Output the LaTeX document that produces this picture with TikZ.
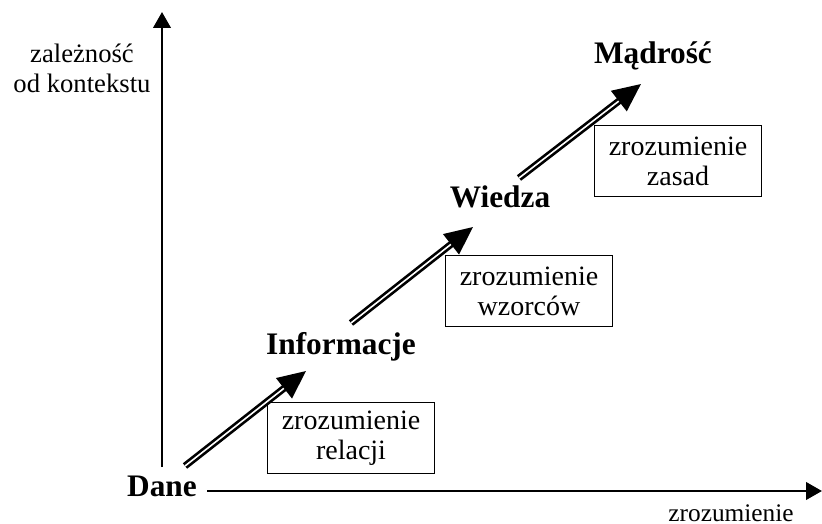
\documentclass[tikz,border=0pt]{standalone}
\usepackage{fontspec}
\setmainfont{Liberation Serif}
\usetikzlibrary{arrows.meta}
\begin{document}
\begin{tikzpicture}[x=0.75pt,y=-0.75pt,
    level/.style = {font=\fontsize{23.5}{28}\selectfont\bfseries, inner sep=0pt},
    note/.style = {draw, line width=1.1pt, minimum width=125pt, minimum height=53pt,
                   align=center, font=\fontsize{21}{22.5}\selectfont},
    axis/.style = {line width=2.2pt, -{Triangle[length=12pt,width=13pt]}},
    step arrow/.style = {double, line width=2pt, double distance=1.2pt,
                         -{Triangle[length=21pt,width=19pt]}}]
        \useasboundingbox (0,0) rectangle (822,524);
        \node[level] (dane) at (162,486) {Dane};
        \node[level] (info) at (341,347) {Informacje};
        \node[level] (wiedza) at (500,197) {Wiedza};
        \node[level] (madrosc) at (653,56) {Mądrość};
        %
        \node[note] (relacje) at (351,438) {zrozumienie\\relacji};
        \node[note] (wzorce) at (529,291) {zrozumienie\\wzorców};
        \node[note] (zasady) at (678,161) {zrozumienie\\zasad};
        %
        \node[align=center, font=\fontsize{20}{22.5}\selectfont] (kontekst) at (82,68) {zależność\\od kontekstu};
        \node[font=\fontsize{19}{22}\selectfont, inner sep=0pt] (zrozumienie) at (731,513) {zrozumienie};
        %
        \coordinate (y0) at (162,467);
        \coordinate (y1) at (162,12);
        \coordinate (x0) at (207,491);
        \coordinate (x1) at (822,491);
        \coordinate (a0) at (185,466);
        \coordinate (a1) at (306,371);
        \coordinate (b0) at (351,323);
        \coordinate (b1) at (473,227);
        \coordinate (c0) at (519,178);
        \coordinate (c1) at (641,84);
        %
        \draw[axis] (y0) -- (y1);
        \draw[axis] (x0) -- (x1);
        \draw[step arrow] (a0) -- (a1);
        \draw[step arrow] (b0) -- (b1);
        \draw[step arrow] (c0) -- (c1);
      \end{tikzpicture}
\end{document}
